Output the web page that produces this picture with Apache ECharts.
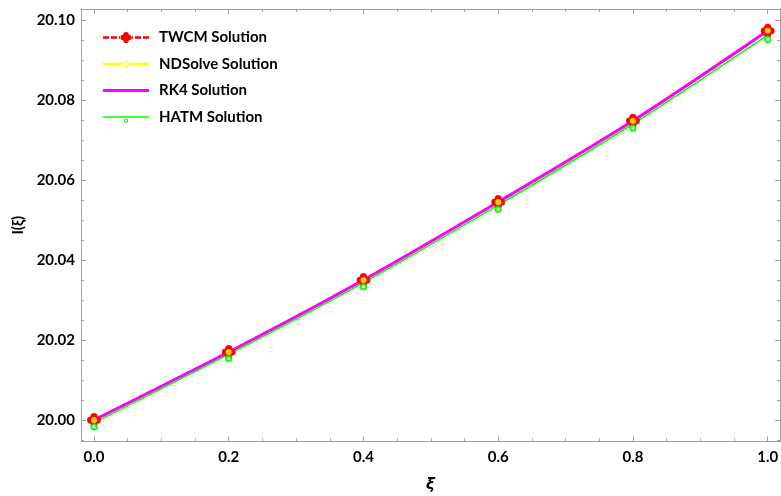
<!DOCTYPE html>
<html>
<head>
<meta charset="utf-8">
<script src="https://cdn.jsdelivr.net/npm/echarts@6/dist/echarts.min.js"></script>
<style>
  html, body { margin: 0; padding: 0; background: #fff; }
  #chart { width: 781px; height: 496px; }
</style>
</head>
<body>
<div id="chart"></div>
<script>
// values
const xs = [0.0, 0.2, 0.4, 0.6, 0.8, 1.0];
const twcm = [20.0000, 20.0170, 20.0350, 20.0545, 20.0748, 20.0973];
const ndsolve = [20.0000, 20.0170, 20.0350, 20.0545, 20.0748, 20.0973];
const rk4 = [20.0000, 20.0170, 20.0350, 20.0545, 20.0748, 20.0973];
const hatm = [19.9993, 20.0164, 20.0343, 20.0537, 20.0740, 20.0962];

const xTicks = [0.0, 0.2, 0.4, 0.6, 0.8, 1.0];
const yTicks = [20.00, 20.02, 20.04, 20.06, 20.08, 20.10];

const X_MIN = -0.0193, X_MAX = 1.0183;
const Y_MIN = 19.994625, Y_MAX = 20.10275;

// minor ticks: 4 subdivisions between major ticks
function minors(ticks, lo, hi) {
  let step = (ticks[1] - ticks[0]) / 4;
  let out = [];
  for (let k = -4; k <= (ticks.length + 4) * 4; k++) {
    let v = +(ticks[0] + k * step).toFixed(6);
    if (v > lo && v < hi && k % 4 !== 0) out.push(v);
  }
  return out;
}
const xMinor = minors(xTicks, X_MIN, X_MAX);
const yMinor = minors(yTicks, Y_MIN, Y_MAX);

const pairs = arr => xs.map((x, i) => [x, arr[i]]);

const frameColor = '#a0a0a0';
const font = 'Lato';

function circ(cx, cy, r, rev) {
  let s = rev ? 1 : 0;
  return 'M' + (cx - r) + ',' + cy + 'a' + r + ',' + r + ' 0 1,' + s + ' ' + (2 * r) + ',0' +
         'a' + r + ',' + r + ' 0 1,' + s + ' ' + (-2 * r) + ',0Z';
}
const clover = 'path://' + circ(0, -3, 3.2) + circ(3, 0, 3.2) + circ(0, 3, 3.2) + circ(-3, 0, 3.2);

// legend icons, 46x14 boxes (tiny dots at top/bottom keep the box size)
const pad = 'M23,0h0.01v0.01h-0.01ZM23,13.99h0.01v0.01h-0.01Z';
const twcmIcon = 'path://' + pad +
  'M0,5.8h6v2.4h-6ZM8,5.8h6v2.4h-6ZM32,5.8h6v2.4h-6ZM40,5.8h6v2.4h-6ZM16,5.8h2v2.4h-2ZM28,5.8h2v2.4h-2Z' +
  circ(23, 4.2, 2.8) + circ(25.8, 7, 2.8) + circ(23, 9.8, 2.8) + circ(20.2, 7, 2.8);
const ndIcon = 'path://' + pad + 'M0,5.8h46v2.4h-46Z' + circ(23, 7, 2.9);
const rkIcon = 'path://' + pad + 'M0,5.6h46v2.8h-46Z';
const hatmIcon = 'path://' + pad + 'M0,6.3h46v1.4h-46Z' + circ(23, 10.6, 2.2) + circ(23, 10.6, 1.1, true);

function xAxisDef(pos, ticks, len, main) {
  return {
    type: 'value', position: pos, min: X_MIN, max: X_MAX,
    axisLine: { show: main, onZero: false, lineStyle: { color: frameColor, width: 1 } },
    axisTick: { show: true, inside: true, length: len, customValues: ticks, lineStyle: { color: frameColor } },
    axisLabel: main && pos === 'bottom' ? {
      show: true, customValues: ticks, margin: 8,
      formatter: v => v.toFixed(1),
      color: '#000', fontFamily: font, fontWeight: 'bold', fontSize: 15
    } : { show: false },
    splitLine: { show: false },
    name: main && pos === 'bottom' ? 'ξ' : '',
    nameLocation: 'middle', nameGap: 36,
    nameTextStyle: { color: '#000', fontFamily: 'DejaVu Sans', fontStyle: 'italic', fontWeight: 'bold', fontSize: 15 }
  };
}
function yAxisDef(pos, ticks, len, main) {
  return {
    type: 'value', position: pos, min: Y_MIN, max: Y_MAX,
    axisLine: { show: main, onZero: false, lineStyle: { color: frameColor, width: 1 } },
    axisTick: { show: true, inside: true, length: len, customValues: ticks, lineStyle: { color: frameColor } },
    axisLabel: main && pos === 'left' ? {
      show: true, customValues: ticks, margin: 6,
      formatter: v => v.toFixed(2),
      color: '#000', fontFamily: font, fontWeight: 'bold', fontSize: 15
    } : { show: false },
    splitLine: { show: false },
    name: main && pos === 'left' ? 'I(ξ)' : '',
    nameLocation: 'middle', nameGap: 49,
    nameTextStyle: { color: '#000', fontFamily: font, fontWeight: 'bold', fontSize: 15 }
  };
}

const chart = echarts.init(document.getElementById('chart'), null, { renderer: 'canvas' });
chart.setOption({
  animation: false,
  backgroundColor: '#fff',
  grid: { left: 81, right: 1, top: 9, bottom: 54.5, containLabel: false, outerBoundsMode: 'none' },
  legend: {
    data: [
      { name: 'TWCM Solution', icon: twcmIcon },
      { name: 'NDSolve Solution', icon: ndIcon },
      { name: 'RK4 Solution', icon: rkIcon },
      { name: 'HATM Solution', icon: hatmIcon }
    ],
    orient: 'vertical', left: 98, top: 25,
    itemWidth: 46, itemHeight: 14, itemGap: 11.5,
    textStyle: { color: '#000', fontFamily: font, fontWeight: 'bold', fontSize: 15, padding: [0, 0, 0, 5] }
  },
  xAxis: [
    xAxisDef('bottom', xTicks, 5, true),
    xAxisDef('top', xTicks, 5, true),
    xAxisDef('bottom', xMinor, 3, false),
    xAxisDef('top', xMinor, 3, false)
  ],
  yAxis: [
    yAxisDef('left', yTicks, 5, true),
    yAxisDef('right', yTicks, 5, true),
    yAxisDef('left', yMinor, 3, false),
    yAxisDef('right', yMinor, 3, false)
  ],
  series: [
    {
      name: 'TWCM Solution', type: 'line', z: 1, data: pairs(twcm), smooth: 0.3,
      symbol: clover, symbolSize: 13, showSymbol: true,
      itemStyle: { color: '#ff0000' },
      lineStyle: { color: '#ff0000', width: 2.5, type: [6, 4] }
    },
    {
      name: 'NDSolve Solution', type: 'line', z: 1, data: pairs(ndsolve), smooth: 0.3,
      symbol: 'circle', symbolSize: 5, showSymbol: true,
      itemStyle: { color: '#ffff00' },
      lineStyle: { color: '#ffff00', width: 2.5 }
    },
    {
      name: 'RK4 Solution', type: 'line', z: 2, data: pairs(rk4), smooth: 0.3,
      symbol: 'none', showSymbol: false,
      itemStyle: { color: '#ff00ff' },
      lineStyle: { color: '#ff00ff', width: 3 }
    },
    {
      name: 'HATM Solution', type: 'line', z: 3, data: pairs(hatm), smooth: 0.3,
      symbol: 'emptyCircle', symbolSize: 5, symbolOffset: [0, 4], showSymbol: true,
      itemStyle: { color: '#00ff00', borderWidth: 1.5 },
      lineStyle: { color: '#00ff00', width: 1.5 }
    },
    // markers drawn above the lines
    {
      name: 'twcm-pts', type: 'scatter', z: 10, data: pairs(twcm),
      symbol: clover, symbolSize: 14, itemStyle: { color: '#ff0000' }
    },
    {
      name: 'nd-pts', type: 'scatter', z: 11, data: pairs(ndsolve),
      symbol: 'circle', symbolSize: 6, itemStyle: { color: '#ffff00' }
    },
    {
      name: 'hatm-pts', type: 'scatter', z: 12, data: pairs(hatm),
      symbol: 'emptyCircle', symbolSize: 5, symbolOffset: [0, 4],
      itemStyle: { color: '#00ff00', borderColor: '#00ff00', borderWidth: 1.5 }
    }
  ]
});
</script>
</body>
</html>
